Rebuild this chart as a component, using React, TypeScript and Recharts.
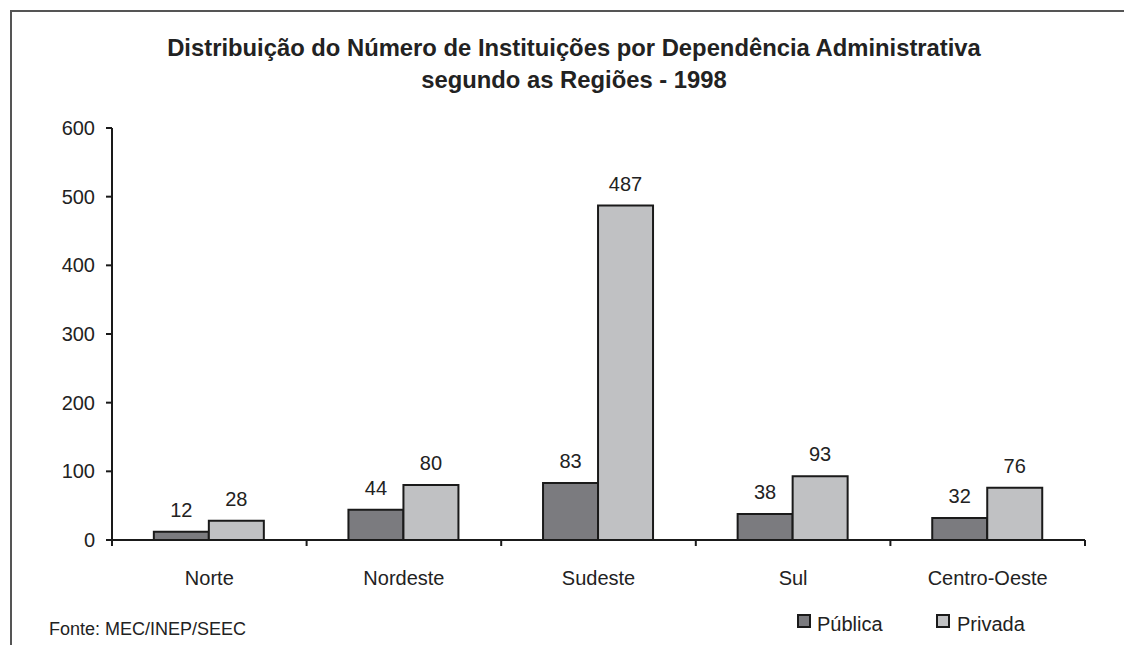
import {
  Bar,
  BarChart,
  LabelList,
  XAxis,
  YAxis,
} from "recharts";

const regions = ["Norte", "Nordeste", "Sudeste", "Sul", "Centro-Oeste"];
const publica = [12, 44, 83, 38, 32];
const privada = [28, 80, 487, 93, 76];
const yTicks = [0, 100, 200, 300, 400, 500, 600];

const seriesNames = ["Pública", "Privada"];
const seriesColors = ["#7b7b7f", "#c0c1c3"];

const data = regions.map((region, i) => ({
  region,
  publica: publica[i],
  privada: privada[i],
}));

const WIDTH = 1124;
const HEIGHT = 645;
const MARGIN = { top: 128, right: 39, bottom: 65, left: 0 };
const Y_AXIS_W = 112;
const PLOT_W = WIDTH - MARGIN.left - MARGIN.right - Y_AXIS_W;
const BAND = PLOT_W / regions.length;
const FONT = "'Liberation Sans', Arial, sans-serif";
const INK = "#1a1a1a";

function CategoryTick(props: any) {
  const { x, y, payload, index } = props;
  const left = x - BAND / 2;
  const right = x + BAND / 2;

  return (
    <g>
      <line x1={left} x2={left} y1={y} y2={y + 6} stroke={INK} strokeWidth={2} />
      {index === regions.length - 1 && (
        <line x1={right} x2={right} y1={y} y2={y + 6} stroke={INK} strokeWidth={2} />
      )}
      <text
        x={x}
        y={y + 45}
        textAnchor="middle"
        fill="#222"
        fontSize={20}
        fontFamily={FONT}
      >
        {payload.value}
      </text>
    </g>
  );
}

export default function App() {
  return (
    <div
      style={{
        position: "relative",
        width: WIDTH,
        height: HEIGHT,
        background: "#fff",
        fontFamily: FONT,
        overflow: "hidden",
      }}
    >
      <style>{"body{margin:0}"}</style>

      {/* frame, only left and top edges fall inside the picture */}
      <div
        style={{
          position: "absolute",
          left: 10,
          top: 10,
          width: WIDTH,
          height: HEIGHT,
          borderLeft: "2px solid #555",
          borderTop: "2px solid #555",
        }}
      />

      <div
        style={{
          position: "absolute",
          left: 0,
          width: 1148,
          top: 32,
          textAlign: "center",
          fontWeight: "bold",
          fontSize: 23.8,
          lineHeight: "32px",
          color: "#222",
        }}
      >
        Distribuição do Número de Instituições por Dependência Administrativa
        <br />
        segundo as Regiões - 1998
      </div>

      <div style={{ position: "absolute", left: 0, top: 0 }}>
        <BarChart
          width={WIDTH}
          height={HEIGHT}
          data={data}
          margin={MARGIN}
          barCategoryGap="21.5%"
          barGap={0}
        >
          <XAxis
            dataKey="region"
            height={40}
            axisLine={{ stroke: INK, strokeWidth: 2 }}
            tickLine={false}
            tickSize={0}
            tickMargin={0}
            interval={0}
            tick={<CategoryTick />}
          />
          <YAxis
            width={Y_AXIS_W}
            domain={[0, 600]}
            ticks={yTicks}
            interval={0}
            axisLine={{ stroke: INK, strokeWidth: 2 }}
            tickLine={{ stroke: INK, strokeWidth: 2 }}
            tickSize={6}
            tickMargin={11}
            tick={{ fill: "#222", fontSize: 20, fontFamily: FONT }}
          />
          <Bar
            dataKey="publica"
            name={seriesNames[0]}
            fill={seriesColors[0]}
            stroke={INK}
            strokeWidth={2}
            isAnimationActive={false}
          >
            <LabelList
              dataKey="publica"
              position="top"
              offset={15}
              fill="#222"
              fontSize={20}
              fontFamily={FONT}
            />
          </Bar>
          <Bar
            dataKey="privada"
            name={seriesNames[1]}
            fill={seriesColors[1]}
            stroke={INK}
            strokeWidth={2}
            isAnimationActive={false}
          >
            <LabelList
              dataKey="privada"
              position="top"
              offset={15}
              fill="#222"
              fontSize={20}
              fontFamily={FONT}
            />
          </Bar>
        </BarChart>
      </div>

      {/* legend */}
      {seriesNames.map((name, i) => (
        <div key={name}>
          <span
            style={{
              position: "absolute",
              left: 797 + i * 139,
              top: 614,
              width: 10,
              height: 10,
              border: `2px solid ${INK}`,
              background: seriesColors[i],
            }}
          />
          <span
            style={{
              position: "absolute",
              left: 817 + i * 140,
              top: 614,
              fontSize: 20,
              lineHeight: "20px",
              color: "#222",
            }}
          >
            {name}
          </span>
        </div>
      ))}

      <div
        style={{
          position: "absolute",
          left: 49,
          top: 620,
          fontSize: 18,
          lineHeight: "18px",
          color: "#222",
        }}
      >
        Fonte: MEC/INEP/SEEC
      </div>
    </div>
  );
}
